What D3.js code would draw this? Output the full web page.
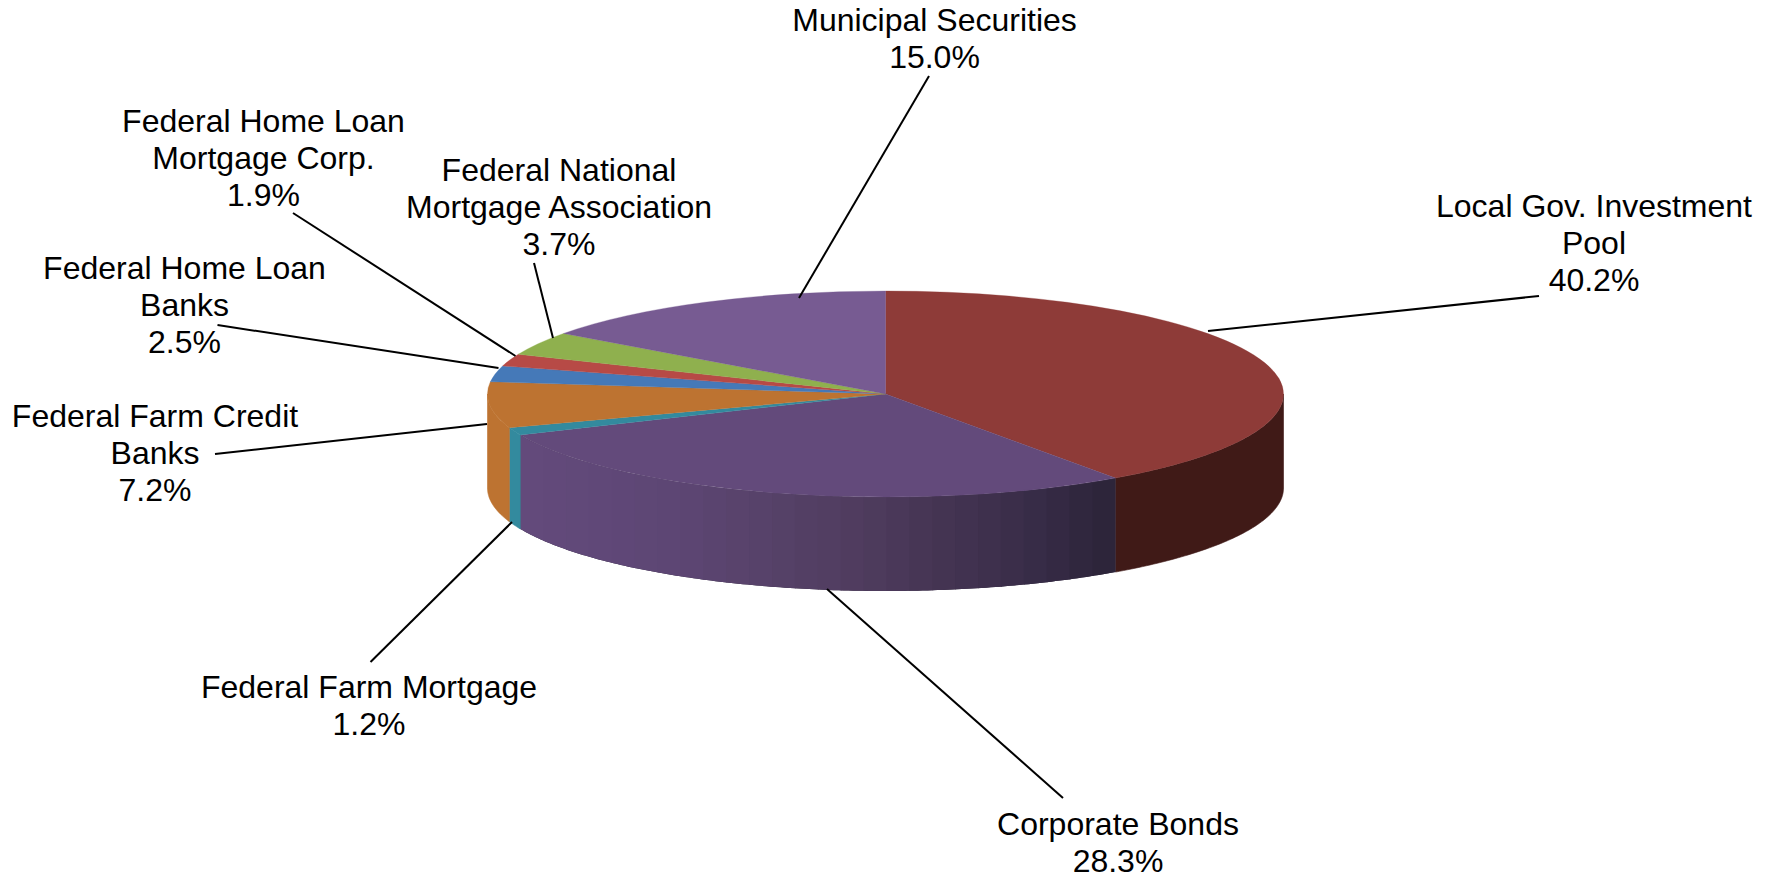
<!DOCTYPE html>
<html><head><meta charset="utf-8">
<script src="https://cdn.jsdelivr.net/npm/d3@7"></script>
<style>html,body{margin:0;padding:0;background:#fff}svg{display:block}</style>
</head><body><div id="chart"></div>
<script>
const categories=["Local Gov. Investment Pool","Corporate Bonds","Federal Farm Mortgage","Federal Farm Credit Banks","Federal Home Loan Banks","Federal Home Loan Mortgage Corp.","Federal National Mortgage Association","Municipal Securities"];
const values=[40.2,28.3,1.2,7.2,2.5,1.9,3.7,15.0];
const labelLines=[["Local Gov. Investment","Pool","40.2%"],["Corporate Bonds","28.3%"],["Federal Farm Mortgage","1.2%"],["Federal Farm Credit","Banks","7.2%"],["Federal Home Loan","Banks","2.5%"],["Federal Home Loan","Mortgage Corp.","1.9%"],["Federal National","Mortgage Association","3.7%"],["Municipal Securities","15.0%"]];
const topColors=["#8e3b38","#634a7b","#338a9e","#bd7331","#4579b8","#b74a46","#8fb04e","#775b92"];
const sideColors=["#401a17",null,"#338a9e","#bd7331","#4579b8","#b74a46","#8fb04e","#775b92"];
const corpSideStops=["#634a7b","#604878","#5c4572","#564168","#4f3c5e","#443452","#382c48","#2b2438"];
// layout
const W=1776,H=878,cx=885.5,cy=394,rx=398,ry=103,depth=94,fontSize=32,lineGap=37;
const labelPos=[[1594,206],[1118,823.5],[369,686.5],[155,416],[184.5,268],[263.5,121],[559,170],[934.5,19.5]];
const leaders=[[[1539,296],[1208,331]],[[1063,798],[827,589]],[[370.5,662],[512,522]],[[215,454],[487,424]],[[217.5,325],[498.5,368]],[[293,213],[515.5,356]],[[534,263],[553,338]],[[929,76],[799,298]]];

const svg=d3.select("#chart").append("svg").attr("width",W).attr("height",H);
const pie=d3.pie().sort(null).value(d=>d)(values);
const arc=d3.arc().innerRadius(0).outerRadius(rx);
const ptX=a=>cx+rx*Math.sin(a), ptY=a=>cy-ry*Math.cos(a);
function wall(a0,a1){
  const n=Math.max(2,Math.ceil((a1-a0)*80));
  const as=d3.range(n+1).map(i=>a0+(a1-a0)*i/n);
  const pts=as.map(a=>[ptX(a),ptY(a)]).concat(as.slice().reverse().map(a=>[ptX(a),ptY(a)+depth]));
  return d3.line()(pts)+"Z";
}
const sides=svg.append("g");
const front0=Math.PI/2, front1=3*Math.PI/2;
const grad=d3.scaleLinear().domain(d3.range(corpSideStops.length).map(i=>i/(corpSideStops.length-1))).range(corpSideStops).interpolate(d3.interpolateRgb);
pie.forEach((s,i)=>{
  const a0=Math.max(s.startAngle,front0),a1=Math.min(s.endAngle,front1);
  if(a1<=a0)return;
  if(sideColors[i]){
    sides.append("path").attr("d",wall(a0,a1)).attr("fill",sideColors[i]).attr("stroke",sideColors[i]).attr("stroke-width",0.6);
  }else{
    const xL=ptX(a1),xR=ptX(a0),nb=26,bw=(xR-xL)/nb;
    const xa=d3.scaleLinear().domain([xL,xR]).range([0,1]);
    const clipId="corpClip";
    svg.append("defs").append("clipPath").attr("id",clipId).append("path").attr("d",wall(a0,a1));
    sides.append("path").attr("d",wall(a0,a1)).attr("fill",corpSideStops[corpSideStops.length-1]);
    const g=sides.append("g").attr("clip-path",`url(#${clipId})`);
    d3.range(nb).forEach(k=>{
      const x=xL+k*bw;
      g.append("rect").attr("x",x).attr("y",cy).attr("width",bw+1).attr("height",ry+depth+4).attr("fill",grad(xa(x+bw/2)));
    });
  }
});
const face=svg.append("g").attr("transform",`translate(${cx},${cy}) scale(1,${ry/rx})`);
face.selectAll("path").data(pie).join("path").attr("d",arc).attr("fill",(d,i)=>topColors[i]).attr("stroke",(d,i)=>topColors[i]).attr("stroke-width",0.5);

svg.append("g").selectAll("line").data(leaders).join("line")
 .attr("x1",d=>d[0][0]).attr("y1",d=>d[0][1]).attr("x2",d=>d[1][0]).attr("y2",d=>d[1][1])
 .attr("stroke","#000").attr("stroke-width",2);

const lab=svg.append("g").attr("font-family","'Liberation Sans',Arial,sans-serif").attr("font-size",fontSize).attr("fill","#000").attr("text-anchor","middle");
labelLines.forEach((lines,i)=>{
  lines.forEach((t,j)=>{
    lab.append("text").attr("x",labelPos[i][0]).attr("y",labelPos[i][1]+j*lineGap).attr("dy","0.35em").text(t);
  });
});
</script></body></html>
